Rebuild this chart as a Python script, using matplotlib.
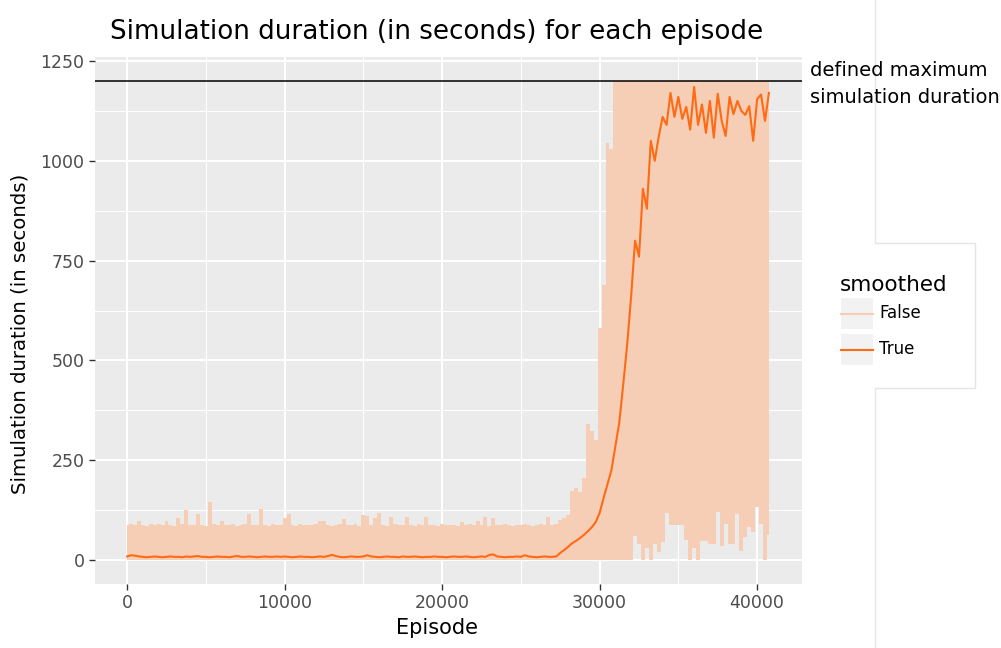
import numpy as np
import matplotlib
matplotlib.use('Agg')
import matplotlib.pyplot as plt
from matplotlib.lines import Line2D
from matplotlib.patches import Rectangle
from matplotlib.ticker import MultipleLocator

# ── data, binned every 250 episodes ──────────────────────────────────
episodes = np.arange(0, 41000, 250)

# raw simulation duration per bin: highest and lowest value
raw_high = [
    88, 90, 87, 97, 89, 86, 91, 88, 90, 87,
    99, 88, 86, 106, 90, 125, 88, 87, 115, 89,
    86, 146, 90, 88, 97, 87, 89, 91, 86, 88,
    90, 115, 87, 89, 127, 88, 86, 90, 89, 87,
    106, 115, 88, 86, 90, 89, 87, 88, 91, 97,
    97, 88, 86, 89, 90, 102, 87, 88, 90, 86,
    112, 110, 89, 105, 117, 88, 86, 107, 90, 88,
    87, 107, 89, 86, 90, 88, 107, 87, 89, 86,
    90, 88, 87, 89, 86, 95, 88, 90, 87, 97,
    88, 107, 86, 105, 89, 87, 90, 88, 86, 89,
    87, 90, 88, 86, 89, 91, 88, 107, 87, 90,
    100, 105,
    112, 173, 181, 170, 206, 340, 323, 300, 582, 690, 1045, 1029,
    1200, 1200, 1200, 1200, 1200, 1200, 1200, 1200, 1200, 1200,
    1200, 1200, 1200, 1200, 1200, 1200, 1200, 1200, 1200, 1200,
    1200, 1200, 1200, 1200, 1200, 1200, 1200, 1200, 1200, 1200,
    1200, 1200, 1200, 1200, 1200, 1200, 1200, 1200, 1200, 1200,
]
raw_low = [
    0, 0, 0, 0, 0, 0, 0, 0, 0, 0, 0, 0, 0, 0, 0, 0, 0, 0, 0, 0,
    0, 0, 0, 0, 0, 0, 0, 0, 0, 0, 0, 0, 0, 0, 0, 0, 0, 0, 0, 0,
    0, 0, 0, 0, 0, 0, 0, 0, 0, 0, 0, 0, 0, 0, 0, 0, 0, 0, 0, 0,
    0, 0, 0, 0, 0, 0, 0, 0, 0, 0, 0, 0, 0, 0, 0, 0, 0, 0, 0, 0,
    0, 0, 0, 0, 0, 0, 0, 0, 0, 0, 0, 0, 0, 0, 0, 0, 0, 0, 0, 0,
    0, 0, 0, 0, 0, 0, 0, 0, 0, 0, 0, 0, 0, 0, 0, 0, 0, 0, 0, 0,
    0, 0, 0, 0, 0, 0, 0, 0, 0,
    60, 40, 0, 30, 0, 40, 20, 45, 118, 87, 87, 87, 87, 50, 0, 30, 0,
    48, 48, 40, 40, 120, 36, 90, 40, 40, 116, 22, 58, 83, 70, 134,
    91, 0, 63,
]
# smoothed duration
smoothed = [
    9, 12, 11, 9, 8, 7, 8, 9, 8, 7, 8, 9, 8, 8, 7, 9, 8, 9, 10, 8,
    8, 7, 8, 9, 8, 8, 7, 9, 10, 8, 8, 9, 8, 7, 8, 9, 8, 8, 9, 8,
    9, 8, 7, 8, 9, 8, 8, 7, 8, 9, 8, 10, 13, 10, 8, 7, 8, 9, 8, 8,
    9, 12, 9, 8, 7, 8, 9, 8, 8, 7, 9, 8, 8, 9, 8, 7, 8, 8, 9, 8,
    8, 7, 8, 9, 8, 8, 9, 8, 7, 8, 9, 8, 13, 14, 9, 8, 7, 8, 8, 9,
    8, 12, 9, 8, 7, 8, 9, 8, 8,
    9, 18, 25, 33, 42, 48, 55, 63, 72, 82, 95, 118, 155, 190, 225,
    285, 345, 440, 540,
    660, 800, 760, 930, 880, 1050, 1000, 1060, 1110, 1090, 1170, 1110,
    1160, 1105, 1135, 1078, 1185, 1090, 1141, 1070, 1150, 1058, 1168,
    1100, 1062, 1160, 1117, 1150, 1125, 1115, 1137, 1050, 1154, 1166,
    1100, 1170,
]
max_duration = 1200

legend_labels = ['False', 'True']
raw_color = '#F6CEB6'
smooth_color = '#FF6A14'

# ── figure ───────────────────────────────────────────────────────────
W, H = 1001, 648
fig = plt.figure(figsize=(W / 100, H / 100), dpi=100)
fig.patch.set_facecolor('white')

def fx(px):
    return px / W

def fy(py):
    return 1 - py / H

ax = fig.add_axes([fx(95), fy(584), fx(802) - fx(95), fy(57) - fy(584)])
ax.set_facecolor('#EBEBEB')

# raw series: band between the per-bin low and high values
ax.fill_between(episodes, raw_low, raw_high, step='mid',
                color=raw_color, lw=0, zorder=2)
ax.plot(episodes, smoothed, color=smooth_color, lw=1.5, zorder=3)
ax.axhline(max_duration, color='black', lw=1.1, zorder=4)

ax.set_xlim(-2040, 42850)
ax.set_ylim(-60, 1260)
ax.xaxis.set_major_locator(MultipleLocator(10000))
ax.xaxis.set_minor_locator(MultipleLocator(5000))
ax.yaxis.set_major_locator(MultipleLocator(250))
ax.yaxis.set_minor_locator(MultipleLocator(125))
ax.grid(which='major', color='white', lw=1.5)
ax.grid(which='minor', color='white', lw=0.75)
ax.set_axisbelow(True)
for s in ax.spines.values():
    s.set_visible(False)
ax.tick_params(which='major', length=4.5, width=1, color='#333333',
               labelcolor='#4D4D4D', labelsize=12.5, pad=3)
ax.tick_params(which='minor', length=0)

# ── texts ────────────────────────────────────────────────────────────
fig.text(fx(437), fy(32), 'Simulation duration (in seconds) for each episode',
         ha='center', va='center', fontsize=18.8)
fig.text(fx(437), fy(628), 'Episode', ha='center', va='center', fontsize=15)
fig.text(fx(20), fy(334), 'Simulation duration (in seconds)', rotation=90,
         ha='center', va='center', fontsize=14.2)
fig.text(fx(810), fy(84), 'defined maximum\nsimulation duration',
         ha='left', va='center', fontsize=14, linespacing=1.5)

# ── legend (drawn by hand, ggplot look) ──────────────────────────────
fig.text(fx(840), fy(285), 'smoothed', ha='left', va='center', fontsize=15.5)
key_colors = [raw_color, smooth_color]
key_tops = [298, 334]
for lab, col, top in zip(legend_labels, key_colors, key_tops):
    fig.patches.append(Rectangle((fx(841), fy(top + 31)), fx(32), fy(0) - fy(31),
                                 transform=fig.transFigure,
                                 facecolor='#F2F2F2', edgecolor='none'))
    fig.lines.append(Line2D([fx(841), fx(873)], [fy(top + 15.5)] * 2,
                            transform=fig.transFigure, color=col, lw=1.5))
    fig.text(fx(879), fy(top + 15.5), lab, ha='left', va='center', fontsize=12)

# thin grey outline right of the panel
fig.lines.append(Line2D([fx(875), fx(875), fx(975), fx(975), fx(875), fx(875)],
                        [fy(0), fy(243), fy(243), fy(388), fy(388), fy(648)],
                        transform=fig.transFigure, color='#E5E5E5', lw=1))

fig.savefig('out.png', dpi=100)
